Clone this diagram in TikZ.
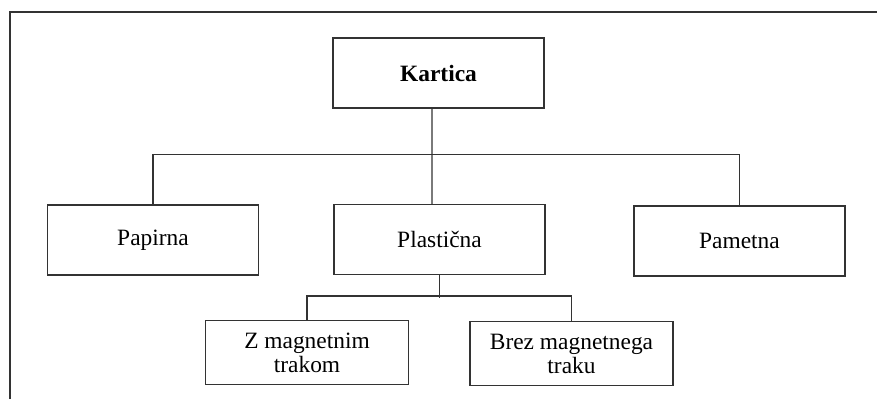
\documentclass[tikz,border=0pt]{standalone}
\usepackage{fontspec}
\setmainfont{Liberation Serif}
\usetikzlibrary{calc, positioning}

\begin{document}
\begin{tikzpicture}[x=1bp, y=-1bp, font=\fontsize{23.5}{24}\selectfont,
    line width=1.1bp, draw=black!80,
    blk/.style={draw=black!80, minimum width=211bp, minimum height=70bp, align=center, inner sep=2bp},
    sblk/.style={blk, minimum width=203bp, minimum height=64bp}]
    \useasboundingbox (0,0) rectangle (877,399);
    % okvir
    \draw (10,399) -- (10,12) -- (877,12);
    \node[blk] (kartica)   at (438.5,73)  {\textbf{Kartica}};
    \node[blk] (papirna)   at (153,240)   {Papirna};
    \node[blk] (plasticna) at (439.5,239.5) {Plastična};
    \node[blk] (pametna)   at (739.5,241) {\raisebox{-4bp}{Pametna}};
    \node[sblk] (zmag)     at (307,352.5) {Z magnetnim\\trakom};
    \node[sblk] (brez)     at (571.5,353.5) {Brez magnetnega\\traku};
    \draw ([xshift=-6.5bp]kartica.south) -- ([xshift=-7.5bp]plasticna.north);
    \draw (papirna.north) -- ++(0,-50) -| (pametna.north);
    \draw (plasticna.south) -- ++(0,23);
    \draw (zmag.north) -- ++(0,-24) -| (brez.north);
\end{tikzpicture}
\end{document}
